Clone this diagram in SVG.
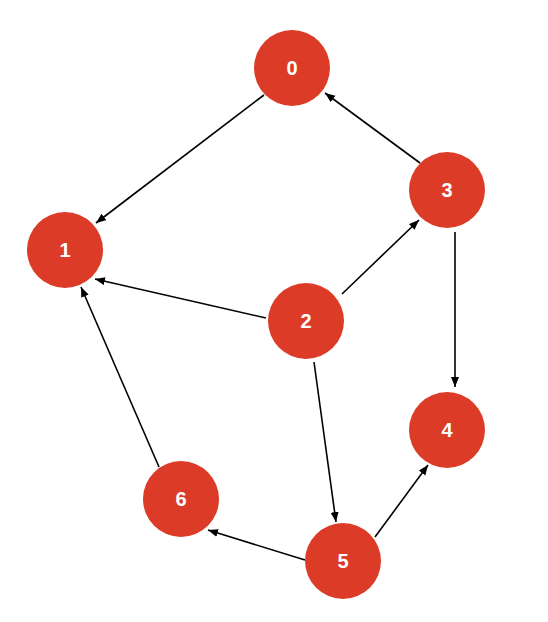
<svg xmlns="http://www.w3.org/2000/svg" width="548" height="622" viewBox="0 0 548 622">
<style>
.node circle{fill:#DC3B27}
.node text{fill:#fff;font-family:"Liberation Sans",Arial,sans-serif;font-weight:bold;font-size:20px;text-anchor:middle;dominant-baseline:central}
.edges line{stroke:#000;stroke-width:1.6;marker-end:url(#ah)}
</style>
<defs>
<marker id="ah" markerUnits="userSpaceOnUse" markerWidth="12" markerHeight="10" refX="10" refY="4" orient="auto">
<path d="M0,0 L10,4 L0,8 Z" fill="#000"/>
</marker>
</defs>
<rect width="548" height="622" fill="#fff"/>
<g id="edges" class="edges">
<line x1="264" y1="95" x2="96" y2="223"/>
<line x1="420" y1="163" x2="325" y2="93"/>
<line x1="266" y1="318" x2="95" y2="279"/>
<line x1="159" y1="467" x2="81" y2="287"/>
<line x1="342" y1="294" x2="419" y2="220"/>
<line x1="314" y1="362" x2="336" y2="522"/>
<line x1="455" y1="232" x2="455" y2="387"/>
<line x1="375" y1="537" x2="428" y2="465"/>
<line x1="305" y1="560" x2="208" y2="530"/>
</g>
<g id="n0" class="node"><circle cx="292" cy="68" r="38"/><text x="292" y="68">0</text></g>
<g id="n1" class="node"><circle cx="65" cy="250" r="38"/><text x="65" y="250">1</text></g>
<g id="n2" class="node"><circle cx="306" cy="321" r="38"/><text x="306" y="321">2</text></g>
<g id="n3" class="node"><circle cx="447" cy="190" r="38"/><text x="447" y="190">3</text></g>
<g id="n4" class="node"><circle cx="447" cy="430" r="38"/><text x="447" y="430">4</text></g>
<g id="n5" class="node"><circle cx="343" cy="561" r="38"/><text x="343" y="561">5</text></g>
<g id="n6" class="node"><circle cx="181" cy="499" r="38"/><text x="181" y="499">6</text></g>
</svg>
